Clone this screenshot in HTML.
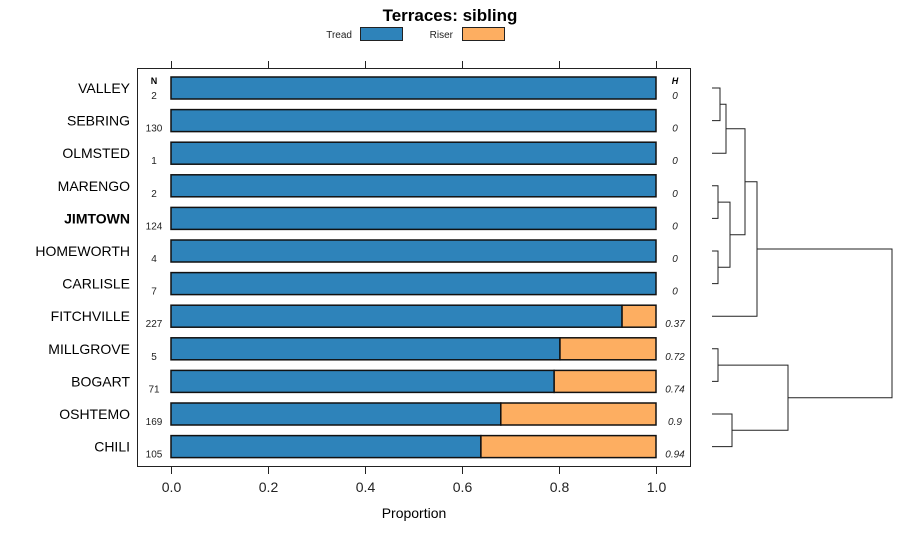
<!DOCTYPE html>
<html><head><meta charset="utf-8"><style>
body{margin:0;background:#fff;}
svg{font-family:"Liberation Sans",sans-serif;}
</style></head><body>
<svg width="900" height="540">
<text x="450" y="21" text-anchor="middle" font-size="17" font-weight="bold">Terraces: sibling</text>
<g>
<text x="352" y="38" text-anchor="end" font-size="10" fill="#222">Tread</text>
<rect x="360.5" y="27.5" width="42" height="13" fill="#2e83ba" stroke="#222"/>
<text x="453" y="38" text-anchor="end" font-size="10" fill="#222">Riser</text>
<rect x="462.5" y="27.5" width="42" height="13" fill="#fdae61" stroke="#222"/>
</g>
<rect x="137.5" y="68.5" width="553" height="398" fill="none" stroke="#222"/>
<text x="154" y="84" text-anchor="middle" font-size="9" font-weight="bold">N</text>
<text x="675" y="84" text-anchor="middle" font-size="9" font-weight="bold" font-style="italic">H</text>
<g id="bars"></g><g id="axis"></g><g id="dendro" stroke="#222" fill="none" stroke-width="1"></g>
<text x="414" y="518" text-anchor="middle" font-size="14">Proportion</text>
</svg>
<script>
const categories=["VALLEY","SEBRING","OLMSTED","MARENGO","JIMTOWN","HOMEWORTH","CARLISLE","FITCHVILLE","MILLGROVE","BOGART","OSHTEMO","CHILI"];
const treadValues=[1,1,1,1,1,1,1,0.93,0.802,0.79,0.68,0.639];
const nValues=["2","130","1","2","124","4","7","227","5","71","169","105"];
const hValues=["0","0","0","0","0","0","0","0.37","0.72","0.74","0.9","0.94"];
const xTicks=[0,0.2,0.4,0.6,0.8,1.0];
const xTickLabels=["0.0","0.2","0.4","0.6","0.8","1.0"];
const NS="http://www.w3.org/2000/svg";
const xs=v=>171+v*485, ys=i=>88+i*32.6;
function mk(tag,attrs,parent,txt){const e=document.createElementNS(NS,tag);for(const k in attrs)e.setAttribute(k,attrs[k]);if(txt!==undefined)e.textContent=txt;parent.appendChild(e);return e;}
const bars=document.getElementById('bars');
categories.forEach((c,i)=>{
 const y=ys(i);
 const l=mk('text',{x:130,y:y+5,'text-anchor':'end','font-size':14,'font-weight':c==="JIMTOWN"?'bold':'normal'},bars,c);
 
 
 const t=mk('rect',{x:xs(0),y:y-11,width:xs(treadValues[i])-xs(0),height:22,fill:'#2e83ba',stroke:'#111','stroke-width':1.5},bars);
 
 
 if(treadValues[i]<1){
  const r=mk('rect',{x:xs(treadValues[i]),y:y-11,width:xs(1)-xs(treadValues[i]),height:22,fill:'#fdae61',stroke:'#111','stroke-width':1.5},bars);
  
  
 }
 const n=mk('text',{x:154,y:y+11,'text-anchor':'middle','font-size':10,fill:'#222'},bars,nValues[i]);
 
 
 const h=mk('text',{x:675,y:y+11,'text-anchor':'middle','font-size':10,'font-style':'italic',fill:'#222'},bars,hValues[i]);
 
 
});
const ax=document.getElementById('axis');
xTicks.forEach((v,i)=>{
 const x=Math.round(xs(v))+0.5;
 mk('line',{x1:x,x2:x,y1:61,y2:68,stroke:'#222'},ax);
 mk('line',{x1:x,x2:x,y1:467,y2:474,stroke:'#222'},ax);
 const t=mk('text',{x:x,y:492,'text-anchor':'middle','font-size':14,fill:'#222'},ax,xTickLabels[i]);
 
 
});
// dendrogram: [leftY, rightY, joinX, childLeftX, childRightX]
const d=document.getElementById('dendro');
function br(y1,x1,y2,x2,xj){mk('path',{d:`M${x1} ${y1}H${xj}V${y2}H${x2}`},d);return (y1+y2)/2;}
const L=712;
const a=br(ys(0),L,ys(1),L,720);
const b=br(a,720,ys(2),L,726);
const c1=br(ys(3),L,ys(4),L,718);
const c2=br(ys(5),L,ys(6),L,718);
const c=br(c1,718,c2,718,730);
const e=br(b,726,c,730,745);
const f=br(e,745,ys(7),L,757);
const g1=br(ys(8),L,ys(9),L,718);
const g2=br(ys(10),L,ys(11),L,732);
const g=br(g1,718,g2,732,788);
br(f,757,g,788,892);


</script>
</body></html>
